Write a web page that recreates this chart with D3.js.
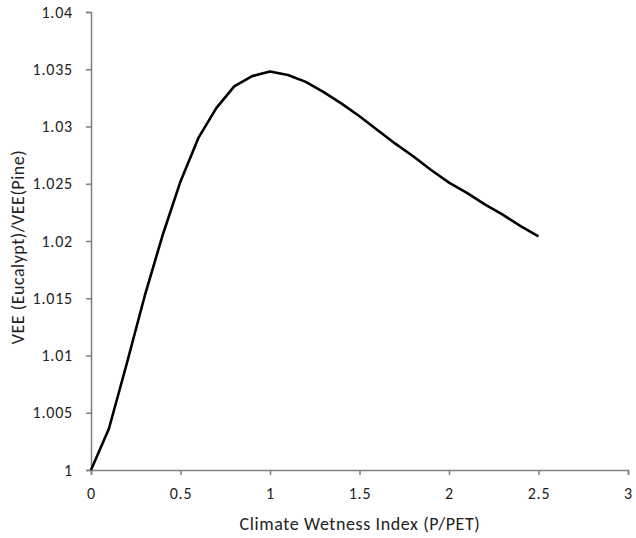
<!DOCTYPE html>
<html>
<head>
<meta charset="utf-8">
<script src="https://cdn.jsdelivr.net/npm/d3@7"></script>
<style>
  body { margin: 0; background: #fff; }
  text { font-family: Carlito, Calibri, Lato, sans-serif; fill: #222; }
</style>
</head>
<body>
<div id="chart"></div>
<script>
// Climate wetness index (P/PET) and VEE ratio
const wetness = [0, 0.1, 0.2, 0.3, 0.4, 0.5, 0.6, 0.7, 0.8, 0.9, 1.0, 1.1, 1.2,
  1.3, 1.4, 1.5, 1.6, 1.7, 1.8, 1.9, 2.0, 2.1, 2.2, 2.3, 2.4, 2.5];
const veeRatio = [1.0000, 1.0036, 1.0093, 1.0152, 1.0205, 1.0252, 1.0290, 1.0316,
  1.0335, 1.0344, 1.0348, 1.0345, 1.0339, 1.0330, 1.0320, 1.0309, 1.0297, 1.0285,
  1.0274, 1.0262, 1.0251, 1.0242, 1.0232, 1.0223, 1.0213, 1.0204];
const xTicks = [0, 0.5, 1, 1.5, 2, 2.5, 3];
const yTicks = [1, 1.005, 1.01, 1.015, 1.02, 1.025, 1.03, 1.035, 1.04];

const W = 636, H = 538;
const m = { left: 91, right: 8, top: 12, bottom: 68 };

const svg = d3.select('#chart').append('svg').attr('width', W).attr('height', H);

const x = d3.scaleLinear().domain([0, 3]).range([m.left, W - m.right]);
const y = d3.scaleLinear().domain([1, 1.04]).range([H - m.bottom, m.top]);

// axes
const xAxis = svg.append('g').attr('transform', `translate(0,${y(1)})`)
  .call(d3.axisBottom(x).tickValues(xTicks).tickSize(5).tickPadding(13)
    .tickFormat(d => d3.format('')(d)));
const yAxis = svg.append('g').attr('transform', `translate(${x(0)},0)`)
  .call(d3.axisLeft(y).tickValues(yTicks).tickSize(5).tickPadding(13)
    .tickFormat(d => +d.toFixed(3) + ''));

[xAxis, yAxis].forEach(g => {
  g.select('.domain').attr('stroke', '#7f7f7f').attr('stroke-width', 1.5);
  g.selectAll('.tick line').attr('stroke', '#7f7f7f').attr('stroke-width', 1.5);
  g.selectAll('.tick text').attr('font-size', '16px').attr('fill', '#222')
    .attr('letter-spacing', '0.8px')
    .attr('font-family', 'Carlito, Calibri, Lato, sans-serif');
});

// curve
const line = d3.line().x((d, i) => x(wetness[i])).y(d => y(d));
svg.append('path').datum(veeRatio)
  .attr('d', line).attr('fill', 'none')
  .attr('stroke', '#000').attr('stroke-width', 2.6)
  .attr('stroke-linejoin', 'round');

// axis titles
svg.append('text').attr('x', 360).attr('y', 530)
  .attr('text-anchor', 'middle').attr('font-size', '18px')
  .attr('letter-spacing', '0.6px')
  .text('Climate Wetness Index (P/PET)');

svg.append('text')
  .attr('transform', 'translate(24,247) rotate(-90)')
  .attr('text-anchor', 'middle').attr('font-size', '18px')
  .attr('letter-spacing', '0.5px')
  .text('VEE (Eucalypt)/VEE(Pine)');
</script>
</body>
</html>
